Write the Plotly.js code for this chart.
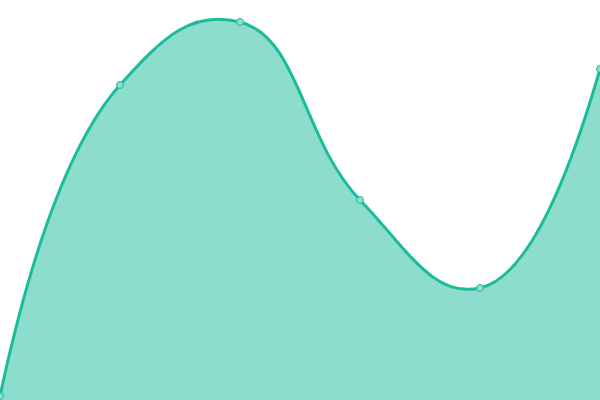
<!DOCTYPE html>
<html><head><script src="https://cdn.plot.ly/plotly-3.0.1.min.js"></script>
<style>html,body{margin:0;padding:0;background:#fff}#c{width:600px;height:400px}</style></head>
<body><div id="c"></div><script>
const xs = [0, 1, 2, 3, 4, 5];
const ys = [1, 78.75, 94.5, 50, 28, 82.75];
Plotly.newPlot('c', [{
  x: xs, y: ys, type: 'scatter', mode: 'lines+markers', fill: 'tozeroy',
  fillcolor: 'rgba(26,188,156,0.5)',
  line: {shape: 'spline', smoothing: 1.3, color: '#1abc9c', width: 3},
  marker: {size: 7, color: 'rgba(140,222,206,1)', line: {color: '#1abc9c', width: 1}},
  cliponaxis: false
}], {
  width: 600, height: 400, margin: {l: 0, r: 0, t: 0, b: 0},
  paper_bgcolor: '#fff', plot_bgcolor: '#fff', showlegend: false,
  xaxis: {range: [0, 5], visible: false, fixedrange: true},
  yaxis: {range: [0, 100], visible: false, fixedrange: true}
}, {displayModeBar: false, staticPlot: true});
</script></body></html>
